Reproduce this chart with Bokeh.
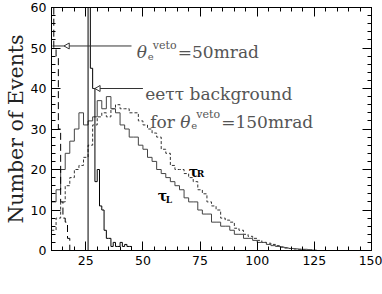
import numpy as np
from bokeh.plotting import figure
from bokeh.models import LinearAxis, FixedTicker, Range1d, Label, CustomJSTickFormatter
from bokeh.embed import file_html
from bokeh.resources import INLINE

# ---------------- data ----------------
tau_start = 10.0
tau_width = 2.0
tau_L = [12, 15, 20, 24, 27, 30, 34, 31, 32, 33,
         37, 35, 38, 35, 34, 31, 30, 28, 28, 26,
         25, 23, 22, 20, 19, 18, 17, 16, 15, 13,
         12, 12, 10, 9, 9, 7, 7, 6, 6, 5,
         4, 4, 3, 3, 2.5, 2, 2, 1.5, 1.2, 1,
         0.8, 0.6, 0.5, 0.4, 0.3, 0.3, 0.2, 0.1]
tau_R = [5, 8, 12, 16, 18, 20, 21, 23, 26, 31,
         33, 34, 33, 35, 36, 35, 35, 34, 34, 32,
         31, 30, 29, 28, 25, 24, 21, 20, 20, 19,
         18, 17, 15, 14, 12, 11, 10, 8, 7.5, 7,
         5.5, 5, 4, 3.5, 3, 2.5, 2, 1.8, 1.5, 1.2,
         0.9, 0.7, 0.5, 0.4, 0.3, 0.2, 0.1]
bg_width = 1.0
bg50_start = 10.0
bg50 = [65, 50, 48, 30, 12, 8, 7, 3]
bg150_start = 26.0
bg150 = [65, 45, 40, 17, 20, 11, 10, 5, 3, 3, 1, 2, 1, 1, 2, 1, 1.5, 1, 1]

x_ticks = [25, 50, 75, 100, 125, 150]
x_minor = list(range(10, 151, 5))
y_ticks = [0, 10, 20, 30, 40, 50, 60]
y_minor = list(range(0, 61, 2))

# annotation anchors (data coords)
arrow50 = dict(y=50.5, x0=10.4, x1=45.0, head=17.0)
arrow150 = dict(y=40.0, x0=28.3, x1=50.0, head=30.5)


def step_xy(start, width, vals):
    edges = start + width * np.arange(len(vals) + 1)
    xs = [edges[0]] + list(edges[:-1]) + [edges[-1]]
    ys = [0] + list(vals) + [0]
    return xs, ys


p = figure(width=382, height=294, output_backend="svg", toolbar_location=None,
           x_range=Range1d(10, 150), y_range=Range1d(0, 60),
           min_border_left=51, min_border_right=11, min_border_top=7,
           min_border_bottom=44)
p.grid.visible = False
p.outline_line_color = "black"
p.background_fill_color = "white"

SERIF = "DejaVu Serif"
SANS = "DejaVu Sans"

for ax in (p.xaxis[0], p.yaxis[0]):
    ax.major_tick_in = 9
    ax.major_tick_out = 0
    ax.minor_tick_in = 4
    ax.minor_tick_out = 0
    ax.axis_line_color = "black"
    ax.major_tick_line_color = "black"
    ax.minor_tick_line_color = "black"
    ax.major_label_text_font = SANS
    ax.major_label_text_font_size = "12.5px"
    ax.major_label_text_color = "black"

p.xaxis.ticker = FixedTicker(ticks=x_ticks, minor_ticks=x_minor)
p.yaxis.ticker = FixedTicker(ticks=y_ticks, minor_ticks=y_minor)
p.xaxis.major_label_standoff = 5
p.yaxis.major_label_standoff = 5
p.yaxis.axis_label = "Number of Events"
p.yaxis.axis_label_text_font = SERIF
p.yaxis.axis_label_text_font_style = "normal"
p.yaxis.axis_label_text_font_size = "20.5px"
p.yaxis.axis_label_text_color = "#222"
p.yaxis.axis_label_standoff = 0

blank = CustomJSTickFormatter(code="return ''")
for loc, tk, mn in (("right", y_ticks, y_minor), ("above", x_ticks, x_minor)):
    ax = LinearAxis(ticker=FixedTicker(ticks=tk, minor_ticks=mn),
                    formatter=blank, major_label_standoff=0,
                    major_tick_in=9, major_tick_out=0, minor_tick_in=4, minor_tick_out=0,
                    axis_line_color="black")
    p.add_layout(ax, loc)

# histograms
xs, ys = step_xy(tau_start, tau_width, tau_R)
p.step(xs, ys, mode="after", line_color="#333", line_width=1, line_dash="3 2")
xs, ys = step_xy(tau_start, tau_width, tau_L)
p.step(xs, ys, mode="after", line_color="#444", line_width=1)
xs, ys = step_xy(bg50_start, bg_width, bg50)
p.step(xs, ys, mode="after", line_color="black", line_width=1, line_dash="7 4")
xs, ys = step_xy(bg150_start, bg_width, bg150)
p.step(xs, ys, mode="after", line_color="black", line_width=1)

# arrows
for a in (arrow50, arrow150):
    p.segment(x0=[a["x0"]], y0=[a["y"]], x1=[a["x1"]], y1=[a["y"]],
              line_color="#333", line_width=1)
    p.scatter(x=[a["head"]], y=[a["y"]], marker="triangle", size=6,
              angle=np.pi / 2, line_color="#333", fill_color="white")

TXT = "#555"


def lab(x, y, text, dx=0, dy=0, size="17px", style="normal", font=SERIF, color=TXT,
        baseline="alphabetic", align="left"):
    p.add_layout(Label(x=x, y=y, text=text, x_offset=dx, y_offset=dy,
                       text_font=font, text_font_size=size, text_font_style=style,
                       text_color=color, text_baseline=baseline, text_align=align))


# line 1: theta_e^veto = 50 mrad
l1x, l1y = 47.3, 49.0
lab(l1x, l1y, "θ", 0, 0, style="italic")
lab(l1x, l1y, "e", 11, -4, size="10px")
lab(l1x, l1y, "veto", 16, 7, size="11px")
lab(l1x, l1y, "=50mrad", 41, 0)
# line 2
l2x, l2y = 51.0, 38.6
lab(l2x, l2y, "eeττ background", 0, 0)
# line 3
l3x, l3y = 53.2, 31.8
lab(l3x, l3y, "for", 0, 0)
lab(l3x, l3y, "θ", 30, 0, style="italic")
lab(l3x, l3y, "e", 41, -4, size="10px")
lab(l3x, l3y, "veto", 46, 7, size="11px")
lab(l3x, l3y, "=150mrad", 71, 0)

# tau labels
lab(56.5, 13.5, "τ", 0, 0, size="14px", style="bold", color="black")
lab(56.5, 13.5, "L", 8, -4, size="9px", style="bold", color="black")
lab(70.0, 19.5, "τ", 0, 0, size="14px", style="bold", color="black")
lab(70.0, 19.5, "R", 8, -2, size="9px", style="bold", color="black")

# x axis title P_T
lab(77.4, -7.7, "P", 0, 0, size="22px", color="#222")
lab(77.4, -7.7, "T", 14, -4, size="13px", color="#222")

open("out.html", "w").write(file_html(p, INLINE))
